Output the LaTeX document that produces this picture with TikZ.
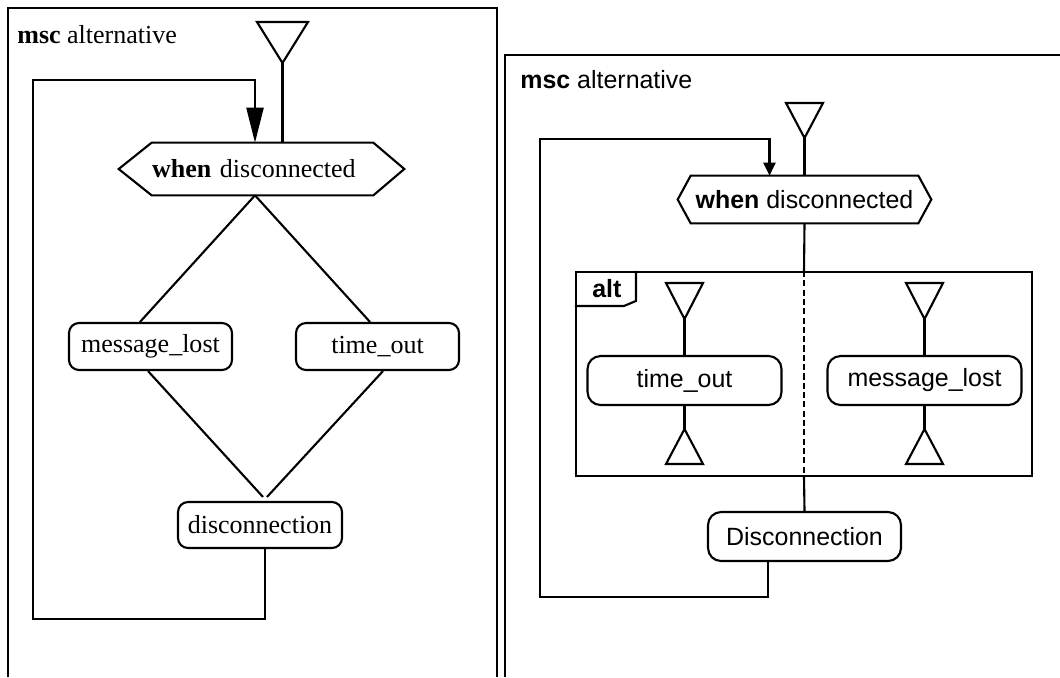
\documentclass[tikz,border=0pt]{standalone}
\usepackage{fontspec}
\setmainfont{Liberation Serif}
\setsansfont{Liberation Sans}
\usepackage{tikz}
\usetikzlibrary{
  arrows.meta,
  calc
}

\begin{document}
\begin{tikzpicture}[
  x=0.02cm, y=-0.02cm,
  flow/.style={line width=1.2pt, draw=black},
  loopline/.style={line width=1.35pt, draw=black},
  serifbox/.style={
    draw, line width=1.2pt, rounded corners=0.2cm,
    minimum width=3.26cm, minimum height=0.94cm, inner sep=0pt,
    font=\rmfamily\fontsize{14.8}{17}\selectfont
  },
  sansbox/.style={
    draw, line width=1.2pt, rounded corners=0.26cm,
    minimum width=3.88cm, minimum height=0.98cm, inner sep=0pt,
    font=\sffamily\fontsize{14.2}{17}\selectfont
  },
  serifguard/.style={
    text width=4.42cm, align=left, minimum height=1.04cm, inner sep=0pt,
    font=\rmfamily\fontsize{14.8}{17}\selectfont
  },
  sansguard/.style={
    minimum width=4.54cm, minimum height=0.94cm, inner sep=0pt,
    font=\sffamily\fontsize{14.2}{17}\selectfont
  },
  bigarrow/.style={-{Triangle[length=0.7cm, width=0.34cm]}},
  smallarrow/.style={-{Triangle[length=0.26cm, width=0.24cm]}}
]
\useasboundingbox (0,0) rectangle (1060,677);

% left: msc alternative (serif)
\draw[flow] (8,677) -- (8,8) -- (497,8) -- (497,677);
\node[anchor=base west, inner sep=0pt, font=\rmfamily\fontsize{14.8}{17}\selectfont]
  (title1) at (17,43) {\textbf{msc} alternative};

\coordinate (start1) at (282.5,63);
\draw[flow] (start1) -- ++(-25.5,-41) -- ++(51,0) -- cycle;

\node[serifguard] (when1) at (262.5,169) {\textbf{when} disconnected};
\draw[flow] (when1.north west) -- (when1.north east) -- ([xshift=0.62cm]when1.east)
  -- (when1.south east) -- (when1.south west) -- ([xshift=-0.66cm]when1.west) -- cycle;

\node[serifbox] (msg1) at (150.5,346.5) {message\_lost};
\node[serifbox] (tout1) at (377.5,346.5) {time\_out};
\node[serifbox, minimum width=3.28cm, minimum height=0.92cm] (disc1) at (260,525) {disconnection};

\draw[flow] (start1) -- (start1 |- when1.north);
\draw[flow] ([xshift=-0.15cm]when1.south) -- ([xshift=-0.21cm]msg1.north);
\draw[flow] ([xshift=-0.15cm]when1.south) -- ([xshift=-0.15cm]tout1.north);
\draw[flow] ([xshift=-0.05cm]msg1.south) -- ([xshift=0.06cm,yshift=0.08cm]disc1.north);
\draw[flow] ([xshift=0.11cm]tout1.south) -- ([xshift=0.14cm,yshift=0.08cm]disc1.north);
\draw[loopline, bigarrow] ([xshift=0.1cm]disc1.south) -- ++(0,70) -| (33,80)
  -| ([xshift=-0.15cm]when1.north);

% right: msc alternative (sans)
\draw[flow] (505,677) -- (505,55) -- (1060,55);
\node[anchor=base west, inner sep=0pt, font=\sffamily\fontsize{14.2}{17}\selectfont]
  (title2) at (520,88) {\textbf{msc} alternative};

\coordinate (start2) at (804.5,138);
\draw[flow] (start2) -- ++(-18.5,-35) -- ++(37,0) -- cycle;

\node[sansguard] (when2) at (804.5,199.5) {\textbf{when} disconnected};
\draw[flow] (when2.north west) -- (when2.north east) -- ([xshift=0.26cm]when2.east)
  -- (when2.south east) -- (when2.south west) -- ([xshift=-0.26cm]when2.west) -- cycle;

\node[draw, line width=1.2pt, minimum width=9.12cm, minimum height=4.08cm, inner sep=0pt]
  (altframe) at (804,374) {};
\draw[flow] ([xshift=1.22cm]altframe.north west) -- ++(0,30) -- ++(-12,5) -- ++(-49,0);
\node[anchor=base west, inner sep=0pt, font=\sffamily\bfseries\fontsize{14.2}{17}\selectfont]
  (altlabel) at (592,297) {alt};
\draw[flow, dash pattern=on 3.5pt off 1.8pt] (altframe.north) -- (altframe.south);

\coordinate (in1) at (684.5,319);
\coordinate (in2) at (924.5,319);
\coordinate (out1) at (684.5,429);
\coordinate (out2) at (924.5,429);
\draw[flow] (in1) -- ++(-18.5,-36) -- ++(37,0) -- cycle;
\draw[flow] (in2) -- ++(-18.5,-36) -- ++(37,0) -- cycle;
\draw[flow] (out1) -- ++(-18.5,35) -- ++(37,0) -- cycle;
\draw[flow] (out2) -- ++(-18.5,35) -- ++(37,0) -- cycle;

\node[sansbox] (tout2) at (684.5,380.5) {time\_out};
\node[sansbox] (msg2) at (924.5,380.5) {message\_lost};
\node[sansbox, minimum width=3.86cm] (disc2) at (804.5,536.5) {Disconnection};

\draw[flow] (start2) -- (when2.north);
\draw[flow] (when2.south) -- (altframe.north);
\draw[flow] (in1) -- (tout2.north);
\draw[flow] (tout2.south) -- (out1);
\draw[flow] (in2) -- (msg2.north);
\draw[flow] (msg2.south) -- (out2);
\draw[flow] (altframe.south) -- (disc2.north);
\draw[loopline, smallarrow] ([xshift=-0.73cm]disc2.south) -- ++(0,35) -| (540,139)
  -| ([xshift=-0.7cm]when2.north);

\end{tikzpicture}
\end{document}
